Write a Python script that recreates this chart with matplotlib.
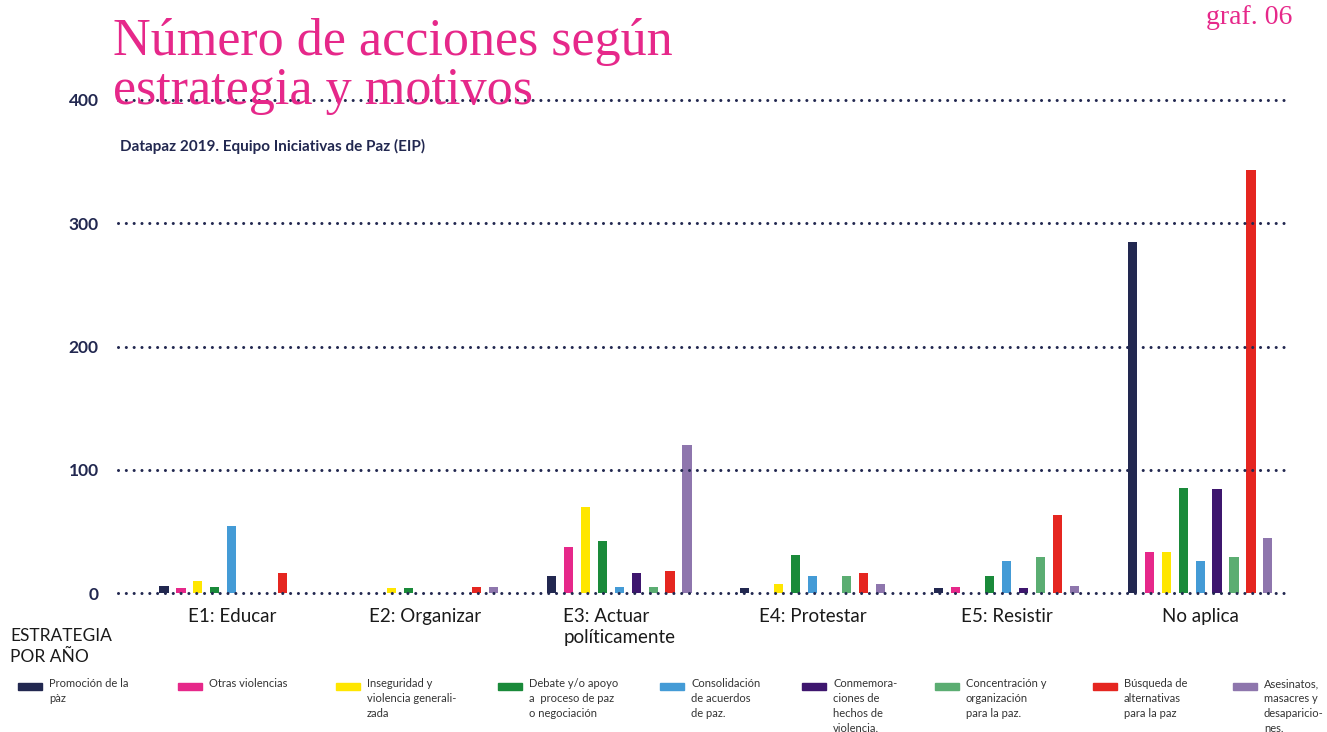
import matplotlib
matplotlib.use('Agg')
from matplotlib import pyplot as plt
import numpy as np

# estrategias (eje x) y motivos (series)
estrategias = ['E1: Educar', 'E2: Organizar', 'E3: Actuar\npolíticamente',
               'E4: Protestar', 'E5: Resistir', 'No aplica']
motivos = ['Promoción de la\npàz', 'Otras violencias',
           'Inseguridad y\nviolencia generali-\nzada',
           'Debate y/o apoyo\na  proceso de paz\no negociación',
           'Consolidación\nde acuerdos\nde paz.',
           'Conmemora-\nciones de\nhechos de\nviolencia.',
           'Concentración y\norganización\npara la paz.',
           'Búsqueda de\nalternativas\npara la paz',
           'Asesinatos,\nmasacres y\ndesaparicio-\nnes.']
colores = ['#222850', '#E6288A', '#FFE600', '#1A8A3A', '#449BD6',
           '#3E166E', '#5BAD72', '#E52620', '#8E76AD']

# valores por motivo, en el orden de las estrategias
promocion = [6, 0, 14, 4, 4, 285]
otras = [4, 0, 37, 0, 5, 33]
inseguridad = [10, 4, 70, 7, 0, 33]
debate = [5, 4, 42, 31, 14, 85]
consolidacion = [54, 0, 5, 14, 26, 26]
conmemoraciones = [0, 0, 16, 0, 4, 84]
concentracion = [0, 0, 5, 14, 29, 29]
busqueda = [16, 5, 18, 16, 63, 343]
asesinatos = [0, 5, 120, 7, 6, 45]
series = [promocion, otras, inseguridad, debate, consolidacion,
          conmemoraciones, concentracion, busqueda, asesinatos]

navy = '#222850'
rosa = '#E6288A'

fig = plt.figure(figsize=(13.27, 7.32), dpi=100)
ax = fig.add_axes([118/1327, (732-593)/732, 1170/1327, 493/732])

x = np.arange(len(estrategias))
paso = 0.0876
ancho = 0.047
for j, vals in enumerate(series):
    ax.bar(x + (j - 4) * paso, vals, width=ancho, color=colores[j], zorder=2)

ax.set_xlim(-0.588, 5.454)
ax.set_ylim(0, 400)
for v in [0, 100, 200, 300, 400]:
    ax.axhline(v, color=navy, lw=2.2, linestyle=(0, (0.01, 2.55)),
               dash_capstyle='round', zorder=3, clip_on=False)

for s in ax.spines.values():
    s.set_visible(False)
ax.tick_params(length=0)
ax.set_yticks([0, 100, 200, 300, 400])
ax.set_yticklabels(['0', '100', '200', '300', '400'], fontsize=12.5,
                   fontweight='bold', color=navy, family='Lato')
ax.tick_params(axis='y', pad=14)
ax.set_xticks(x)
ax.set_xticklabels([])
# etiquetas del eje x a mano, para alinear a la izquierda las de dos lineas
for xi, nombre in zip(x, estrategias):
    ax.text(xi, -15/493, nombre, transform=ax.get_xaxis_transform(),
            fontsize=13.5, color='#1a1a1a', family='Lato', ha='center',
            va='top', multialignment='left', linespacing=1.3)

# titulos
fig.text(113/1327, 1 - 55/732, 'Número de acciones según',
         fontsize=37.5, color=rosa, family='Liberation Serif',
         va='baseline', ha='left')
fig.text(113/1327, 1 - 104/732, 'estrategia y motivos',
         fontsize=37.5, color=rosa, family='Liberation Serif',
         va='baseline', ha='left')
fig.text(1292/1327, 1 - 24/732, 'graf. 06', fontsize=20, color=rosa,
         family='Liberation Serif', ha='right', va='baseline')
fig.text(120/1327, 1 - 151/732, 'Datapaz 2019. Equipo Iniciativas de Paz (EIP)',
         fontsize=11, color=navy, fontweight='bold', family='Lato')

fig.text(10/1327, 1 - 641/732, 'ESTRATEGIA', fontsize=12.5,
         color='#1a1a1a', family='Lato', va='baseline')
fig.text(10/1327, 1 - 662/732, 'POR AÑO', fontsize=12.5,
         color='#1a1a1a', family='Lato', va='baseline')

# leyenda manual
lx = [18, 178, 336, 498, 660, 802, 935, 1093, 1233]
for j in range(len(motivos)):
    fig.patches.append(plt.Rectangle((lx[j]/1327, 1 - 690/732), 24/1327, 7/732,
                                     color=colores[j], transform=fig.transFigure))
    fig.text((lx[j] + 31)/1327, 1 - 678/732, motivos[j], fontsize=8,
             color='#333333', family='Lato', va='top', linespacing=1.45)

fig.savefig('out.png', dpi=100)
